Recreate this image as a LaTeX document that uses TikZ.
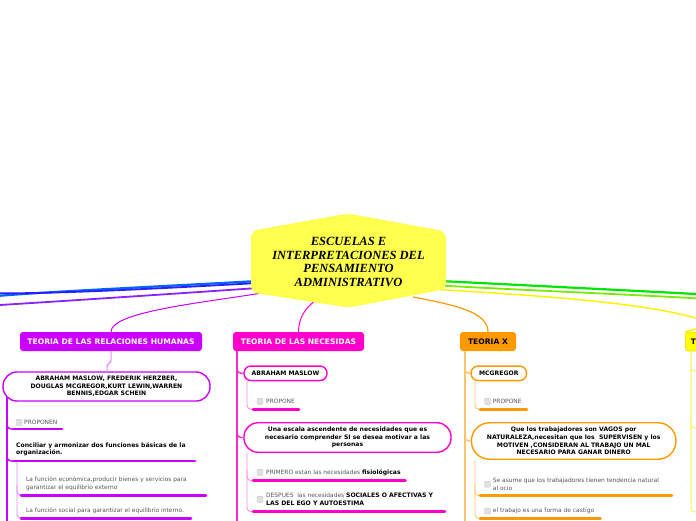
\documentclass[tikz,border=0pt]{standalone}
\usepackage{fontspec}
\setmainfont{DejaVu Sans}
\newfontfamily\titlefont{Liberation Serif}
\definecolor{cpur}{RGB}{204,0,255}
\definecolor{cpurl}{RGB}{228,140,255}
\definecolor{cpink}{RGB}{255,0,204}
\definecolor{cpinkl}{RGB}{255,140,225}
\definecolor{corg}{RGB}{255,153,0}
\definecolor{corgl}{RGB}{255,195,110}
\definecolor{cyel}{RGB}{255,255,0}
\definecolor{cyell}{RGB}{245,245,120}
\definecolor{croot}{RGB}{255,255,77}
\definecolor{cblue}{RGB}{0,100,255}
\definecolor{cblued}{RGB}{40,30,255}
\definecolor{cviol}{RGB}{136,34,255}
\definecolor{cgreen}{RGB}{0,230,0}
\definecolor{cgreenl}{RGB}{120,235,0}
\definecolor{cgray}{RGB}{85,85,85}
\begin{document}
\begin{tikzpicture}[x=1pt,y=-1pt,
  hdr/.style={rounded corners=3pt, inner sep=0pt, minimum height=19pt, font=\fontsize{7.6}{9}\selectfont\bfseries},
  pill/.style={draw, fill=white, line width=1.4pt, inner sep=0pt, align=center, font=\fontsize{6.1}{7.6}\selectfont\bfseries},
  gtext/.style={inner sep=0pt, anchor=west, align=left, text=cgray, font=\fontsize{5.9}{7.7}\selectfont},
  btext/.style={inner sep=0pt, anchor=west, align=left, font=\fontsize{6.1}{7}\selectfont\bfseries},
  cbox/.style={draw=black!22, fill=black!12, line width=0.4pt, rounded corners=1pt, minimum size=6pt, inner sep=0pt},
  ul/.style={line width=2.8pt, line cap=round},
  trunk/.style={line width=1.4pt, rounded corners=4pt},
  twig/.style={line width=0.9pt, rounded corners=4pt},
]
\clip (0,0) rectangle (696,520);
\fill[white] (0,0) rectangle (696,520);

% named ends of the main connectors
\coordinate (bl) at (0,294.5);
\coordinate (vl) at (0,305);
\coordinate (gr1) at (696,294);
\coordinate (gr2) at (696,298.3);

% ---- main connectors (behind the root) ----
\draw[cblue, line width=2.2pt] (258,281) .. controls (150,287) and (60,291) .. ([yshift=-1.2pt]bl);
\draw[cblued, line width=1.8pt] (258,283) .. controls (150,289) and (60,293.5) .. ([yshift=1.2pt]bl);
\draw[cviol, line width=1.8pt] (258,288) .. controls (170,294) and (80,300) .. (vl);
\draw[cgreen, line width=2.2pt] (440,281) .. controls (520,285) and (620,290) .. (gr1);
\draw[cgreenl, line width=1.8pt] (440,285.5) .. controls (520,290) and (620,294) .. (gr2);

% ---- headers ----
\node[hdr, fill=cpur, text=white, minimum width=182pt] (h1) at (111,341.5) {TEORIA DE LAS RELACIONES HUMANAS};
\node[hdr, fill=cpink, text=white, minimum width=131pt] (h2) at (298.5,341.5) {TEORIA DE LAS NECESIDAS};
\node[hdr, fill=corg, text=black, minimum width=56pt] (h3) at (488,341.5) {TEORIA X};
\node[hdr, fill=cyel, draw=cyel!85!black, line width=0.5pt, text=black, anchor=west, text width=24pt, inner xsep=5.5pt, align=left] (h4) at (685,341.5) {T};

\draw[cyel!90!orange, line width=1.5pt] (440,289.5) .. controls (560,297) and (640,303) .. (696,318) .. controls (706,321) and (712,326) .. (h4.north west);
\draw[cpur, line width=1pt] (262,293) .. controls (200,303) and (111,312) .. (h1.north);
\draw[cpink, line width=1pt] (315,301) .. controls (306,307) and (298.5,318) .. (h2.north);
\draw[corg, line width=1.2pt] (413,297) .. controls (455,305) and (488,312) .. (h3.north);

% ---- root ----
\fill[croot, rounded corners=7pt] (251,260) -- (251,231) -- (348,213.5) -- (446,231.5) -- (446,289) -- (349,307.5) -- (251,292.5) -- cycle;
\node[font=\titlefont\fontsize{12.5}{13.4}\selectfont\bfseries\itshape, align=center, inner sep=0pt] (root) at (348.5,262) {ESCUELAS E\\INTERPRETACIONES DEL\\PENSAMIENTO\\ADMINISTRATIVO};

% ================= TEORIA DE LAS RELACIONES HUMANAS =================
\node[pill, draw=cpur, minimum width=207pt, minimum height=29pt, rounded corners=14pt] (n11) at (106.5,386.5)
  {ABRAHAM MASLOW, FREDERIK HERZBER,\\DOUGLAS MCGREGOR,KURT LEWIN,WARREN\\BENNIS,EDGAR SCHEIN};
\draw[cpurl, line width=1pt, rounded corners=3pt] (h1.south) -- (111,362) -- (107,365) -- (n11.north -| 107,0);

\coordinate (pt1) at (7,397);
\coordinate (pb1) at (7,522);
\draw[cpur, line width=1.6pt] (pt1) -- (pb1);
\draw[cpur, trunk] (7,418) |- (14,429);
\draw[cpur, trunk] (7,450) |- (14,461);
\node[cbox] (c11) at (19,422.3) {};
\node[gtext] (t11) at (24,422.7) {PROPONEN};
\draw[cpur, ul] (13,429) -- (62,429);
\node[btext] (t12) at (16,449.2) {Conciliar y armonizar dos funciones básicas de la\\organización.};
\draw[cpur, ul] (13,461) -- (195,461);

\draw[cpurl, twig] (17,462) |- (22,518.3);
\draw[cpurl, twig] (17,485) |- (22,495.3);
\node[gtext] (t13) at (26,484) {La función económica,producir bienes y servicios para\\garantizar el equilibrio externo};
\draw[cpur, ul] (21,495.3) -- (206,495.3);
\node[gtext] (t14) at (26,511) {La función social para garantizar el equilibrio interno.};
\draw[cpur, ul] (21,518.3) -- (191,518.3);

% ================= TEORIA DE LAS NECESIDAS =================
\draw[cpink!85, line width=1.4pt] (237,351) -- (237,522);
\node[pill, draw=cpink, minimum width=83pt, minimum height=14.5pt, rounded corners=7pt] (n21) at (285.5,373.3) {ABRAHAM MASLOW};
\draw[cpink!85, trunk] (237,362) |- (n21.west);
\draw[cpinkl, twig] (247,380.5) |- (253,409.3);
\node[cbox] (c21) at (260,401.3) {};
\node[gtext] (t21) at (266,401.7) {PROPONE};
\draw[cpink, ul] (253,409.3) -- (299,409.3);

\node[pill, draw=cpink, minimum width=207pt, minimum height=29.5pt, rounded corners=14pt] (n22) at (347.5,437.5)
  {Una escala ascendente de necesidades que es\\necesario comprender SI se desea motivar a las\\personas};
\draw[cpink!85, trunk] (237,427) |- (n22.west);
\draw[cpinkl, twig] (247,452.5) |- (253,511.7);
\draw[cpinkl, twig] (247,470) |- (253,480.7);
\node[cbox] (c22) at (260,472.3) {};
\node[gtext] (t22) at (266,472.7) {PRIMERO están las necesidades {\color{black}\bfseries\fontsize{6.1}{7.7}\selectfont fisiológicas}};
\draw[cpink, ul] (253,480.7) -- (405.5,480.7);
\node[cbox] (c23) at (260,499.3) {};
\node[gtext] (t23) at (266,499.5) {DESPUES\ \ las necesidades {\color{black}\bfseries\fontsize{6.1}{7.6}\selectfont SOCIALES O AFECTIVAS Y}\\{\color{black}\bfseries\fontsize{6.1}{7.6}\selectfont LAS DEL EGO Y AUTOESTIMA}};
\draw[cpink, ul] (253,511.7) -- (445,511.7);

% ================= TEORIA X =================
\draw[corgl, line width=1.4pt] (465,351) -- (465,522);
\node[pill, draw=corg, minimum width=55.5pt, minimum height=14.5pt, rounded corners=7pt] (n31) at (498.8,373.3) {MCGREGOR};
\draw[corgl, trunk] (465,362) |- (n31.west);
\draw[corgl, twig] (475,380.5) |- (481,409.3);
\node[cbox] (c31) at (487.5,401.3) {};
\node[gtext] (t31) at (492.7,401.7) {PROPONE};
\draw[corg, ul] (480,409.3) -- (527,409.3);

\node[pill, draw=corg, minimum width=204.5pt, minimum height=36.5pt, rounded corners=18pt] (n32) at (573.7,441)
  {Que los trabajadores son VAGOS por\\NATURALEZA,necesitan que los\ \ SUPERVISEN y los\\MOTIVEN ,CONSIDERAN AL TRABAJO UN MAL\\NECESARIO PARA GANAR DINERO};
\draw[corgl, trunk] (465,430) |- (n32.west);
\draw[corgl, twig] (475,459.5) |- (481,518.7);
\draw[corgl, twig] (475,485) |- (481,495.7);
\node[cbox] (c32) at (487.5,484.2) {};
\node[gtext] (t32) at (492.7,484.4) {Se asume que los trabajadores tienen tendencia natural\\al ocio};
\draw[corg, ul] (480,495.7) -- (672,495.7);
\node[cbox] (c33) at (487.5,511) {};
\node[gtext] (t33) at (492.7,511) {el trabajo es una forma de castigo};
\draw[corg, ul] (480,518.7) -- (600.5,518.7);

% ================= right yellow column =================
\draw[cyell, line width=1.2pt, rounded corners=4pt] (691,351) |- (702,512);
\draw[cyell, line width=1.2pt, rounded corners=4pt] (691,362) |- (702,371);
\draw[cyell, line width=1.2pt, rounded corners=4pt] (691,418) |- (702,428);
\end{tikzpicture}
\end{document}
